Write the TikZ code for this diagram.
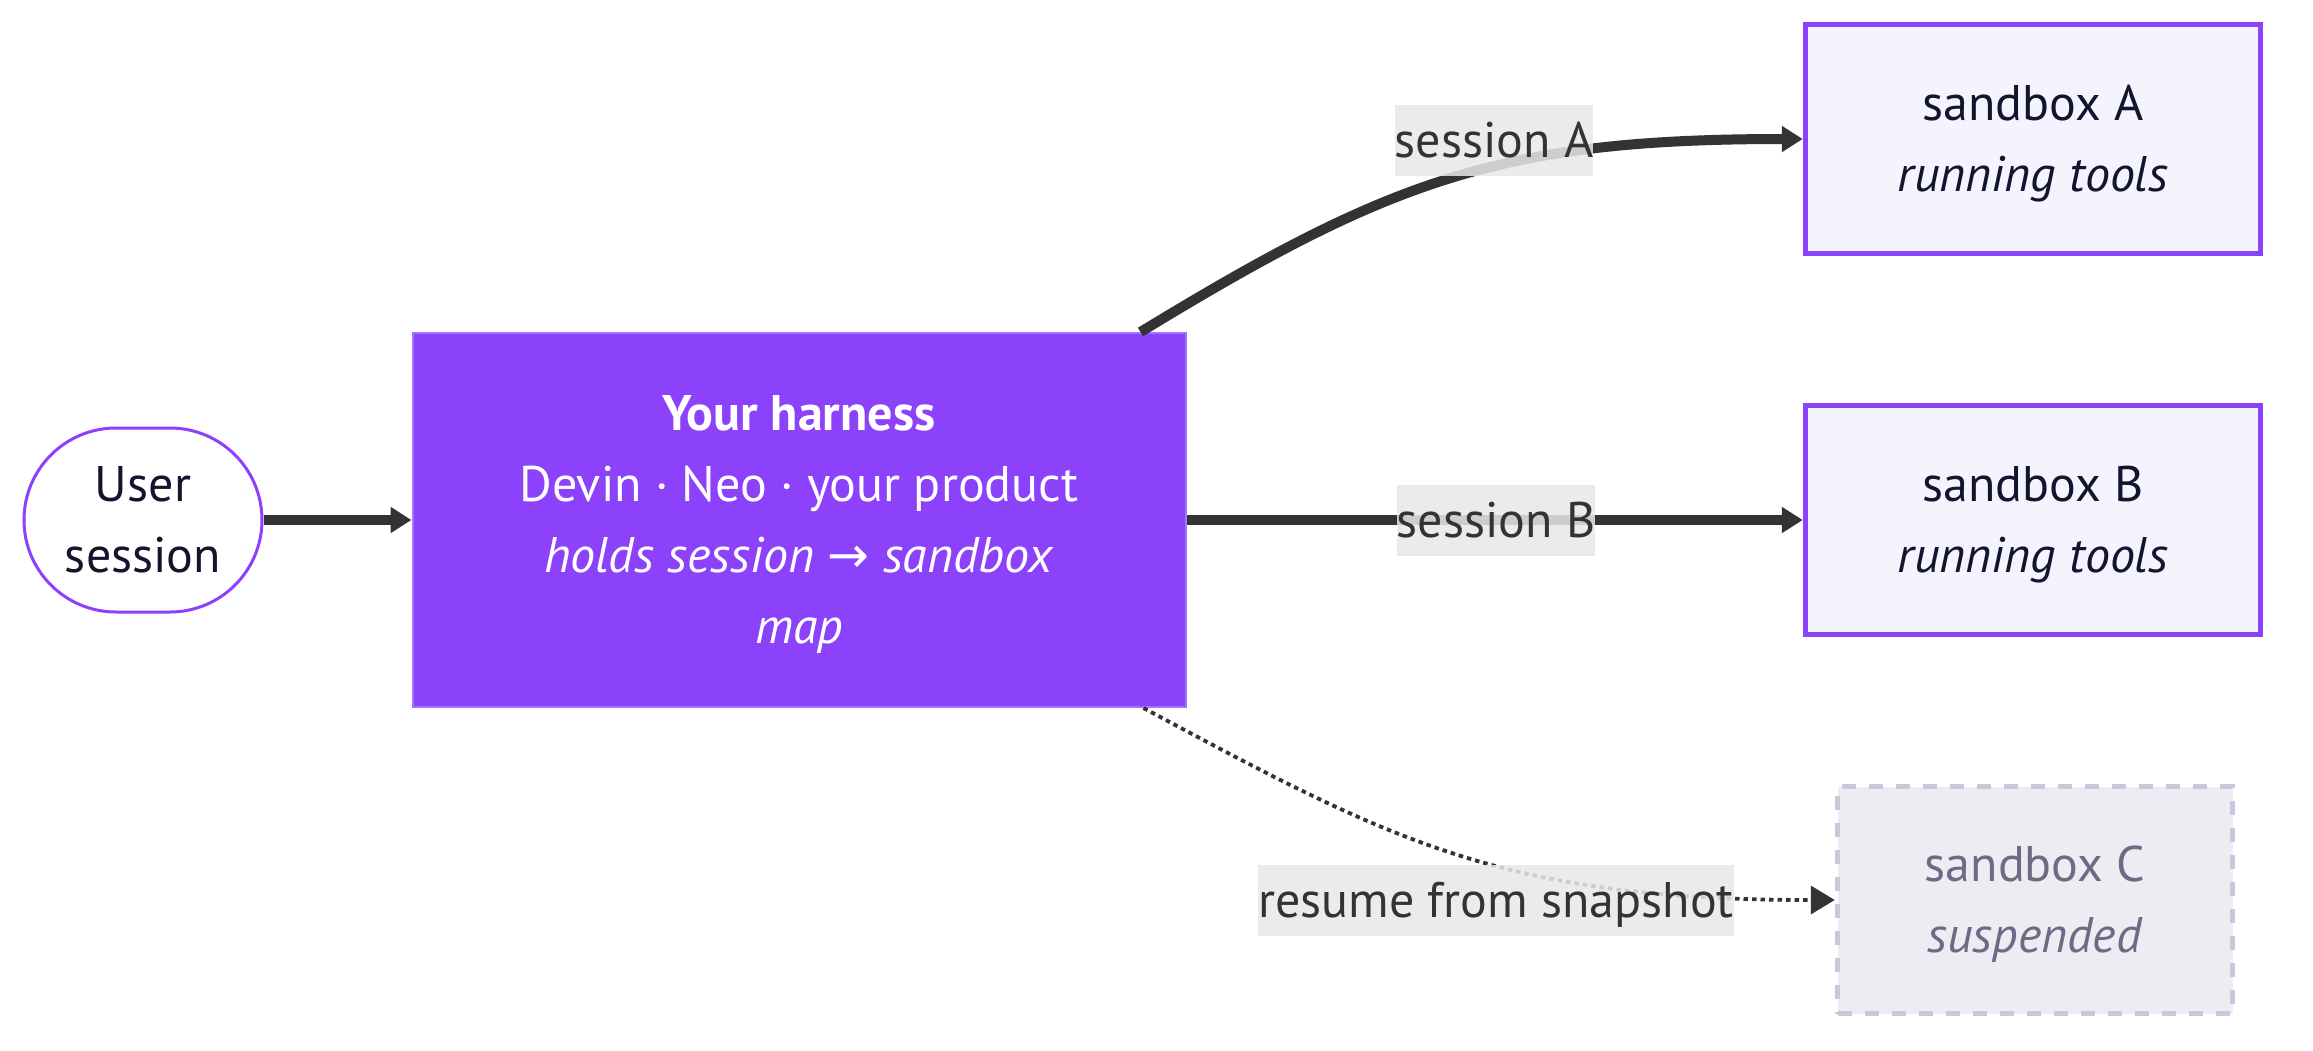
\documentclass[tikz,border=0pt]{standalone}
\usepackage{fontspec}
\setmainfont{PT Sans}
\newfontfamily\arrowfont{DejaVu Sans}
\usetikzlibrary{arrows.meta,shapes.misc,calc}
\definecolor{purp}{HTML}{8C42FB}
\definecolor{purpedge}{HTML}{A373FF}
\definecolor{boxfill}{HTML}{F4F4FE}
\definecolor{cfill}{HTML}{EDECF2}
\definecolor{cedge}{HTML}{C9C7DB}
\definecolor{ctext}{HTML}{6C6B86}
\definecolor{ink}{HTML}{14142E}
\definecolor{edgec}{HTML}{333333}
\definecolor{lblfill}{HTML}{E8E8E8}
\newcommand\topstrut{\rule{0pt}{52pt}}
\newcommand\botstrut{\rule[-18pt]{0pt}{18pt}}
\tikzset{
  base/.style={font=\fontsize{50}{71}\selectfont, align=center, inner sep=0pt},
  startnode/.style={base, rounded rectangle, draw=purp, line width=3pt, fill=white,
    text=ink, minimum width=238pt, minimum height=184pt},
  harness/.style={base, rectangle, draw=purpedge, line width=2pt, fill=purp,
    text=white, minimum width=773pt, minimum height=374pt},
  sandbox/.style={base, rectangle, draw=purp, line width=5.5pt, fill=boxfill,
    text=ink, minimum width=455pt, minimum height=229pt},
  suspended/.style={base, rectangle, draw=cedge, line width=5.5pt,
    dash pattern=on 14pt off 13pt, fill=cfill, text=ctext,
    minimum width=395pt, minimum height=227pt},
  thickedge/.style={draw=edgec, line width=10pt,
    -{Triangle[length=21pt,width=25pt]}},
  dottededge/.style={draw=edgec, line width=3.8pt, dash pattern=on 4.5pt off 4pt,
    -{Triangle[length=24pt,width=28pt]}},
  edgelabel/.style={base, fill=lblfill, fill opacity=0.85, text opacity=1,
    text=edgec, inner xsep=0pt, minimum height=71pt, text height=44pt, text depth=9pt}
}
\begin{document}
\begin{tikzpicture}[x=1pt,y=-1pt]
\useasboundingbox[fill=white] (0,0) rectangle (2313,1050);

\node[startnode] (user) at (143,520) {\topstrut User\\session\botstrut};
\node[harness] (h) at (799,520) {\topstrut\textbf{Your harness}\\Devin · Neo · your product\\\textit{holds session {\arrowfont\itshape →} sandbox}\\\textit{map}\botstrut};
\node[sandbox] (sa) at (2033,139) {\topstrut sandbox A\\\textit{running tools}\botstrut};
\node[sandbox] (sb) at (2033,520) {\topstrut sandbox B\\\textit{running tools}\botstrut};
\node[suspended] (sc) at (2035,900) {\topstrut sandbox C\\\textit{suspended}\botstrut};

\draw[thickedge] (user.east) -- (h.west);
\draw[thickedge] ($(h.north east)+(-46,0)$) .. controls (1390,180) and (1500,139) .. (sa.west);
\draw[thickedge] (h.east) -- (sb.west);
\draw[dottededge] ($(h.south east)+(-43,0)$) .. controls (1390,840) and (1500,900) .. (sc.west);

\node[edgelabel] (la) at (1494,140) {session A};
\node[edgelabel] (lb) at (1496,520) {session B};
\node[edgelabel] (lc) at (1496,900) {resume from snapshot};
\end{tikzpicture}
\end{document}
